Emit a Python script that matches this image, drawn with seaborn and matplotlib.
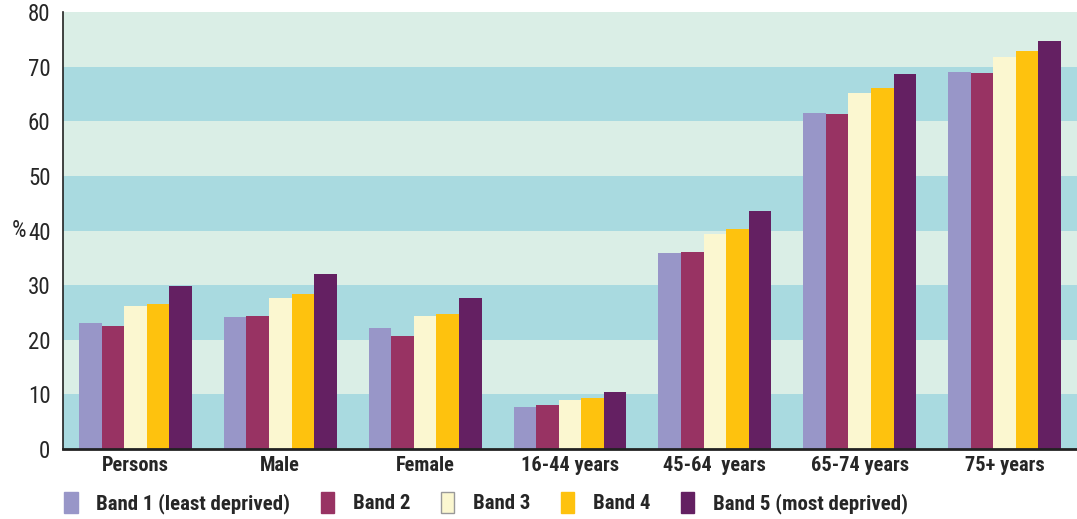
import matplotlib
matplotlib.use("Agg")
import matplotlib.pyplot as plt
import matplotlib.patches as mpatches
from matplotlib import font_manager
import seaborn as sns
import pandas as pd

# Categories and band labels
groups = ["Persons", "Male", "Female", "16-44 years", "45-64  years", "65-74 years", "75+ years"]
bands = ["Band 1 (least deprived)", "Band 2", "Band 3", "Band 4", "Band 5 (most deprived)"]

# Percentages per band, one value per group
band1 = [23.1, 24.2, 22.2, 7.7, 35.8, 61.6, 69.1]
band2 = [22.6, 24.4, 20.7, 8.1, 36.1, 61.4, 68.8]
band3 = [26.2, 27.7, 24.4, 9.0, 39.4, 65.1, 71.7]
band4 = [26.6, 28.4, 24.8, 9.4, 40.3, 66.0, 72.8]
band5 = [29.9, 32.1, 27.7, 10.5, 43.6, 68.6, 74.6]

yticks = [0, 10, 20, 30, 40, 50, 60, 70, 80]

colors = ["#9896C8", "#983363", "#FBF7D0", "#FEC20E", "#642062"]
stripe_dark = "#A9DAE0"
stripe_light = "#DAEEE6"

rows = []
for band, vals in zip(bands, [band1, band2, band3, band4, band5]):
    for g, v in zip(groups, vals):
        rows.append({"group": g, "band": band, "value": v})
df = pd.DataFrame(rows)

sns.set_style("white")

# Prefer a narrow sans face; fall back to the condensed cut of DejaVu Sans
names = {f.name for f in font_manager.fontManager.ttflist}
family = "DejaVu Sans"
for cand in ["Liberation Sans Narrow", "Roboto Condensed", "Open Sans Condensed"]:
    if cand in names:
        family = cand
        break
plt.rcParams["font.family"] = [family, "DejaVu Sans"]
plt.rcParams["font.stretch"] = "condensed"

fig = plt.figure(figsize=(10.77, 5.19), dpi=100)
ax = fig.add_axes([63 / 1077, 1 - 449 / 519, 1014 / 1077, 437 / 519])

# Alternating horizontal stripes behind the bars
for i in range(8):
    ax.axhspan(i * 10, (i + 1) * 10, color=stripe_dark if i % 2 == 0 else stripe_light,
               zorder=0, lw=0)

sns.barplot(data=df, x="group", y="value", hue="band", hue_order=bands,
            order=groups, palette=colors, width=0.78, saturation=1,
            linewidth=0, ax=ax, legend=False, zorder=2)

ax.set_xlim(-0.5, len(groups) - 0.5)
ax.set_ylim(0, 80)
ax.set_yticks(yticks)
ax.set_yticklabels([str(t) for t in yticks], fontsize=16.5, fontstretch="condensed")
ax.set_xticks(range(len(groups)))
ax.set_xticklabels(groups, fontsize=14.7, fontweight="bold", fontstretch="condensed")
ax.tick_params(axis="x", length=0, pad=5)
ax.tick_params(axis="y", length=0, pad=9)
ax.set_xlabel("")
ax.set_ylabel("%", rotation=0, fontsize=16.5, va="center", ha="center",
              fontstretch="condensed")
ax.yaxis.set_label_coords(-44 / 1014, 0.5)

for side in ["top", "right"]:
    ax.spines[side].set_visible(False)
ax.spines["left"].set_color("#222222")
ax.spines["left"].set_linewidth(1.2)
ax.spines["bottom"].set_color("#222222")
ax.spines["bottom"].set_linewidth(2)
ax.spines["left"].set_zorder(5)
ax.spines["bottom"].set_zorder(5)

handles = []
for c in colors:
    edge = "#999999" if c == "#FBF7D0" else c
    handles.append(mpatches.Patch(facecolor=c, edgecolor=edge, linewidth=1))
fig.legend(handles, bands, loc="center left", bbox_to_anchor=(60 / 1077, 1 - 503 / 519),
           ncol=5, frameon=False, handlelength=0.65, handleheight=1.15,
           handletextpad=0.9, columnspacing=1.45, borderaxespad=0, borderpad=0.2,
           prop={"weight": "bold", "size": 15, "stretch": "condensed",
                 "family": [family, "DejaVu Sans"]})

fig.savefig("out.png", dpi=100)
